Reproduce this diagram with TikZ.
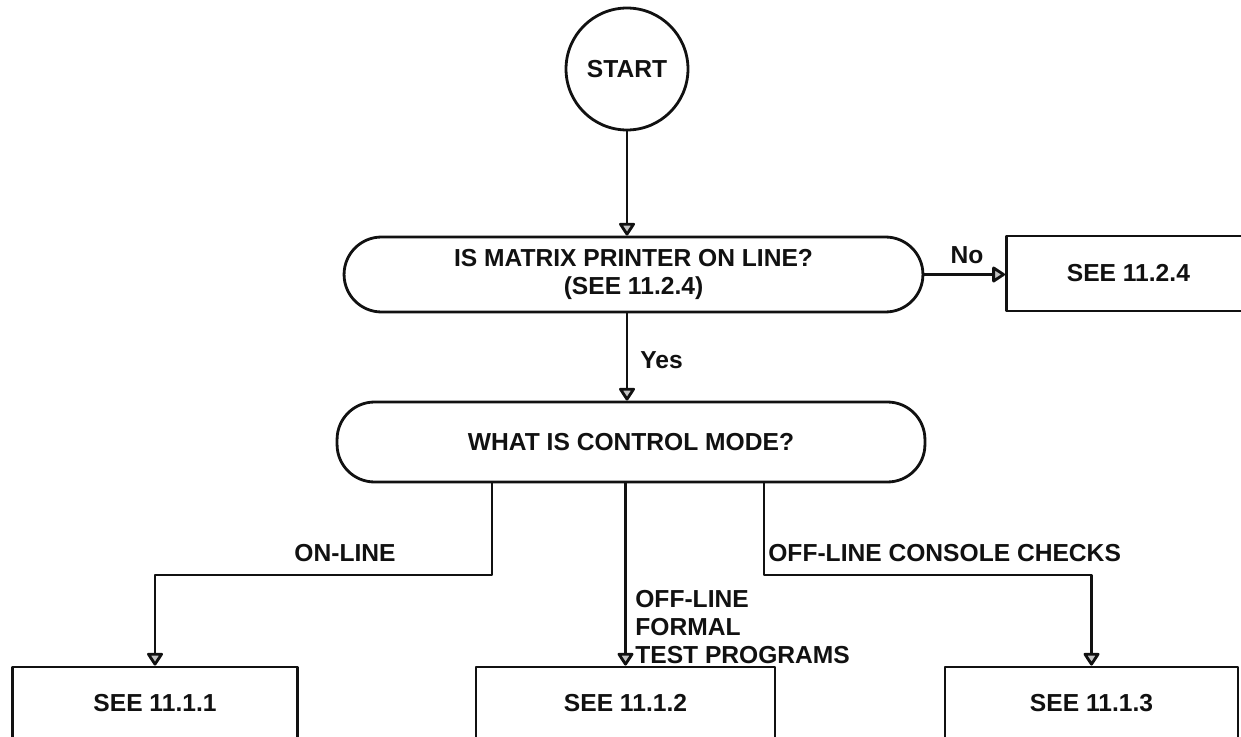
\documentclass[tikz,border=0pt]{standalone}
\usepackage{fontspec}
\setmainfont{Liberation Sans}
\usetikzlibrary{arrows.meta,positioning}
\definecolor{ink}{HTML}{111111}
\definecolor{tipfill}{HTML}{C4C4C4}
\tikzset{
  line/.style={draw=ink, line width=1.6pt, line cap=round, line join=round},
  flow/.style={line, -{Triangle[length=8pt,width=10pt,fill=tipfill,round]}},
  txt/.style={text=ink, font=\bfseries\fontsize{14}{16}\selectfont},
  startnode/.style={line, txt, circle, minimum size=2.44cm, inner sep=0pt},
  ask/.style={line, txt, rectangle, rounded corners=0.75cm, inner sep=0pt, align=center},
  see/.style={line, txt, rectangle, inner sep=0pt},
  lab/.style={txt, inner sep=0pt},
}

\begin{document}
\begin{tikzpicture}[x=0.02cm,y=0.02cm]
  \useasboundingbox (0,0) rectangle (1241,-737);
  % shapes
  \node[startnode] (start) at (627,-69) {START};
  \node[ask, minimum width=11.58cm, minimum height=1.5cm] (online) at (633.5,-274.5)
    {IS MATRIX PRINTER ON LINE?\\(SEE 11.2.4)};
  \node[see, minimum width=4.88cm, minimum height=1.5cm, anchor=west] (s4) at (1005,-273.5) {SEE 11.2.4};
  \node[ask, minimum width=11.76cm, minimum height=1.6cm] (mode) at (631,-442) {WHAT IS CONTROL MODE?};
  \node[see, minimum width=5.7cm, minimum height=1.44cm] (s1) at (155,-703) {SEE 11.1.1};
  \node[see, minimum width=5.98cm, minimum height=1.44cm] (s2) at (625.5,-703) {SEE 11.1.2};
  \node[see, minimum width=5.86cm, minimum height=1.44cm] (s3) at (1091.5,-703) {SEE 11.1.3};
  \coordinate (j1) at (492,-575);
  \coordinate (j3) at (764,-575);
  % connectors
  \draw[flow] (start.south) -- (start.south |- online.north);
  \draw[flow] (online.east) -- (online.east -| s4.west);
  \draw[flow] (online.south -| start) -- (mode.north -| start);
  \draw[flow] (j1 |- mode.south) -- (j1) -| (s1);
  \draw[flow] (mode.south -| s2) -- (s2);
  \draw[flow] (j3 |- mode.south) -- (j3) -| (s3);
  % labels
  \node[lab] (no) at (967,-255) {No};
  \node[lab, anchor=west] (yes) at (640,-360) {Yes};
  \node[lab] (lonline) at (345,-553) {ON-LINE};
  \node[lab, anchor=west] (lconsole) at (768,-553) {OFF-LINE CONSOLE CHECKS};
  \node[lab, anchor=north west, align=left] (lformal) at (635,-590) {OFF-LINE\\FORMAL\\TEST PROGRAMS};
\end{tikzpicture}
\end{document}
